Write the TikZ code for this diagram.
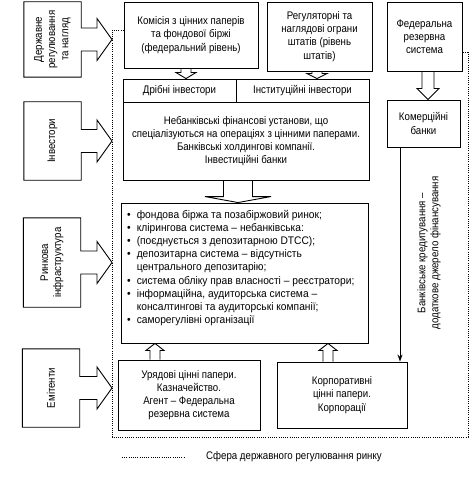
\documentclass[tikz,border=0pt]{standalone}
\usepackage{fontspec}
\setmainfont[FakeStretch=0.88]{Liberation Sans}
\newfontfamily\bulfont[FakeStretch=0.93]{Liberation Sans}
\usetikzlibrary{calc,arrows.meta}
\newcommand\harr[6]{\draw[ln] let \p1=(#1), \p2=(#2), \p3=(#3) in (\x1-#4,\y2) -- (\x1-#4,\y3+#6) -- (\x1-#5,\y3+#6) -- (\x1,\y3) -- (\x1+#5,\y3+#6) -- (\x1+#4,\y3+#6) -- (\x1+#4,\y2);}
\newcommand\sidearr[2]{\draw[ln] let \p1=(#1.east), \p2=(#2) in (#1.south east) -- (\x1,\y1-11.5pt) -- (\x2-15pt,\y1-11.5pt) -- (\x2-15pt,\y1-21pt) -- (\x2,\y1) -- (\x2-15pt,\y1+21pt) -- (\x2-15pt,\y1+11.5pt) -- (\x1,\y1+11.5pt) -- (#1.north east) -- (#1.north west) -- (#1.south west) -- cycle;}
\begin{document}
\begin{tikzpicture}[x=1pt,y=-1pt,
  ln/.style={line width=0.9pt},
  dot/.style={line width=0.75pt, dash pattern=on 0.8pt off 1.4pt},
  txt/.style={font=\fontsize{11}{13.2}\selectfont},
  box/.style={draw, line width=0.9pt, inner sep=0pt, align=center, txt},
  lbox/.style={inner sep=0pt, minimum width=57, txt},
  vtext/.style={rotate=90, align=center, txt}]
\useasboundingbox (0,0) rectangle (471,481);
% top boxes
\node[box, minimum width=134, minimum height=66] (kom) at (191,35) {Комісія з цінних паперів\\та фондової біржі\\(федеральний рівень)};
\node[box, minimum width=105, minimum height=69] (regst) at (319.5,36.5) {Регуляторні та\\наглядові ограни\\штатів (рівень\\штатів)};
\node[box, minimum width=75, minimum height=69] (fed) at (424.5,36.5) {Федеральна\\резервна\\система};
\node[box, minimum width=73, minimum height=47] (comm) at (423.5,123.5) {Комерційні\\банки};
% investors
\node[box, minimum width=113, minimum height=23] (dr) at (179.5,90.5) {Дрібні інвестори};
\node[box, minimum width=133, minimum height=23] (inst) at (302.5,90.5) {Інституційні інвестори};
\node[box, minimum width=246, minimum height=78] (neb) at (246,141) {Небанківські фінансові установи, що\\спеціалізуються на операціях з цінними паперами.\\Банківські холдингові компанії.\\Інвестиційні банки};
% infrastructure
\node[box, minimum width=247, minimum height=140] (infra) at (244.5,273) {};
\node[anchor=base west, inner sep=0pt, txt] (infrat) at (127,218) {\bulfont\renewcommand\arraystretch{1.0}\begin{tabular}[t]{@{}l@{\hspace{6pt}}l@{}}
•& фондова біржа та позабіржовий ринок;\\
•& клірингова система – небанківська:\\
•& (поєднується з депозитарною DTCC);\\
•& депозитарна система – відсутність\\
 & центрального депозитарію;\\
•& система обліку прав власності – реєстратори;\\
•& інформаційна, аудиторська система –\\
 & консалтингові та аудиторські компанії;\\
•& саморегулівні організації
\end{tabular}};
% issuers
\node[box, minimum width=142, minimum height=70] (ur) at (189,395) {Урядові цінні папери.\\Казначейство.\\Агент – Федеральна\\резервна система};
\node[box, minimum width=130, minimum height=66] (corp) at (342,395) {Корпоративні\\цінні папери.\\Корпорації};
% left block arrows
\coordinate (dx) at (112,0);
\node[lbox, minimum height=75] (reg) at (52.5,39.5) {};
\node[vtext] (regt) at (reg) {Державне\\регулювання\\та нагляд};
\node[lbox, minimum height=78] (inv) at (52.5,141) {};
\node[vtext] (invt) at (inv) {Інвестори};
\node[lbox, minimum height=89] (rin) at (52,262.5) {};
\node[vtext] (rint) at (rin) {Ринкова\\інфраструктура};
\node[lbox, minimum height=78] (emi) at (51,388) {};
\node[vtext] (emit) at (emi) {Емітенти};
\sidearr{reg}{dx}
\sidearr{inv}{dx}
\sidearr{rin}{dx}
\sidearr{emi}{dx}
% hollow arrows
\coordinate (a1) at (186,0);
\coordinate (a2) at (317,0);
\coordinate (a3) at (238,0);
\coordinate (a4) at (428,0);
\coordinate (a5) at (155,0);
\coordinate (a6) at (328,0);
\harr{a1}{kom.south}{dr.north}{5pt}{10pt}{6pt}
\harr{a2}{regst.south}{inst.north}{5pt}{10pt}{5pt}
\harr{a3}{neb.south}{infra.north}{14.5pt}{33pt}{6pt}
\harr{a4}{fed.south}{comm.north}{6pt}{11pt}{11pt}
\harr{a5}{ur.north}{infra.south}{5pt}{9pt}{-7pt}
\harr{a6}{corp.north}{infra.south}{5pt}{9pt}{-7pt}
% bank credit line
\coordinate (bx) at (400,0);
\draw[ln,-{Stealth[length=7pt,width=5pt]}] (comm.south -| bx) -- (corp.north -| bx);
\node[vtext] (bankt) at (429,253) {Банківське кредитування –\\додаткове джерело фінансування};
% dotted sphere
\coordinate (dtl) at (112,30);
\coordinate (dbl) at (112,437);
\coordinate (dbr) at (468,437);
\coordinate (dtr) at (468,52);
\draw[dot] (kom.west |- dtl) -- (dtl) -- (dbl) -- (dbr) -- (dtr) -- (fed.east |- dtr);
% legend
\coordinate (lg1) at (122,457);
\coordinate (lg2) at (185,457);
\draw[dot] (lg1) -- (lg2);
\node[anchor=west, inner sep=0pt, txt] (lgt) at (206,457) {Сфера державного регулювання ринку};
\end{tikzpicture}
\end{document}
